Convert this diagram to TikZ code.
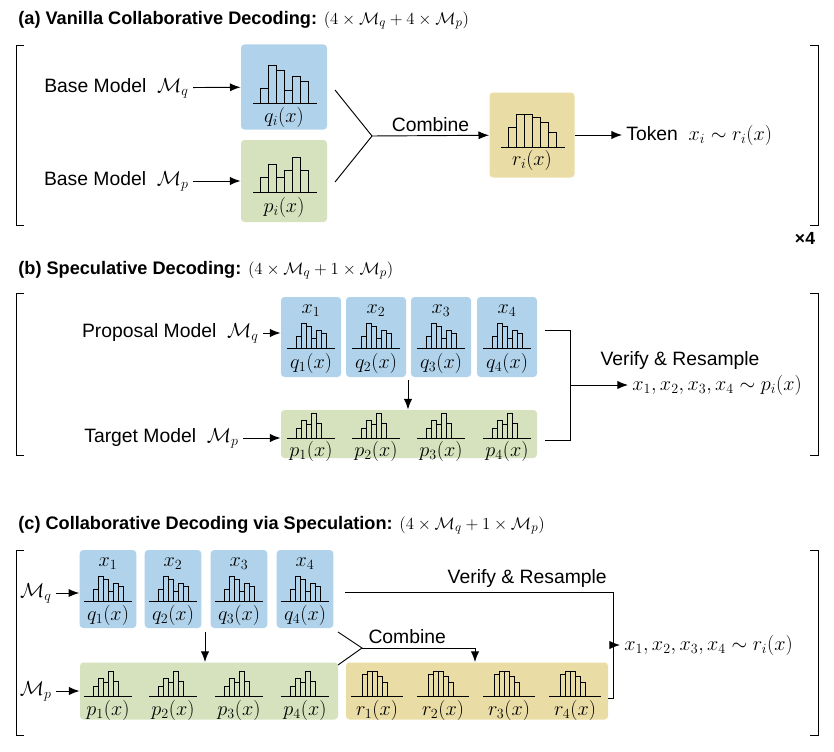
\documentclass[tikz,border=0pt]{standalone}
\usepackage{fontspec}
\setmainfont{Liberation Sans}
\usepackage{amsmath}
\usetikzlibrary{arrows.meta}
\definecolor{qblue}{HTML}{B0D3EB}
\definecolor{pgreen}{HTML}{D5E2BD}
\definecolor{rtan}{HTML}{EADCA5}
\newcommand\hist[4]{% left x, baseline y, bar width, heights
  \foreach \h [count=\i] in {#4} \draw ({#1+(\i-1)*#3},#2) rectangle ++(#3,-\h);}
\begin{document}
\begin{tikzpicture}[x=0.3mm, y=-0.3mm, line width=0.8pt, font=\fontsize{16.5}{19}\selectfont,
  >={Latex[length=9pt,width=7pt]}]
\useasboundingbox (0,0) rectangle (834,751);
\tikzset{box/.style={rounded corners=3pt, inner sep=0pt},
  lbl/.style={inner sep=1pt},
  ttl/.style={anchor=west, font=\fontsize{15.5}{18}\selectfont}}

% (a)
\node[ttl] (ta) at (14,20) {\textbf{(a) Vanilla Collaborative Decoding:} $(4\times\mathcal{M}_q+4\times\mathcal{M}_p)$};
\draw (24,45) -- (16,45) -- (16,225) -- (24,225);
\draw (810,45) -- (818,45) -- (818,225) -- (810,225);
\node[font=\bfseries\fontsize{15}{17}\selectfont] (x4) at (805,238) {×4};
\begin{scope}[every node/.style={box}]
\node[fill=qblue, minimum width=25.8mm, minimum height=25.5mm] (qa) at (284,87) {};
\node[fill=pgreen, minimum width=25.8mm, minimum height=24.6mm] (pa) at (284,181) {};
\node[fill=rtan, minimum width=25.5mm, minimum height=25.5mm] (ra) at (532,135) {};
\end{scope}
\hist{260}{103}{8}{15,38,33,13,27,22}
\draw (253,103) -- (317,103);
\node[lbl] at (284,117) {$q_i(x)$};
\hist{260}{192}{8}{15,28,15,22,35,22}
\draw (253,192) -- (317,192);
\node[lbl] at (284,207) {$p_i(x)$};
\hist{508}{147}{8}{20,33,33,30,25,15}
\draw (501,147) -- (565,147);
\node[lbl] at (532,160) {$r_i(x)$};
\node[anchor=east] (bq) at (193,88) {Base Model\ \ $\mathcal{M}_q$};
\node[anchor=east] (bp) at (193,181) {Base Model\ \ $\mathcal{M}_p$};
\draw[->] (bq) -- (qa);
\draw[->] (bp) -- (pa);
\coordinate (ja) at (372,136);
\draw (335,90) -- (ja) -- (335,182);
\draw[->] (ja) -- node[above] {Combine} (ra);
\node[anchor=west] (tok) at (622,135) {Token\ \ $x_i\sim r_i(x)$};
\draw[->] (ra) -- (tok);

% (b)
\node[ttl] (tb) at (14,270) {\textbf{(b) Speculative Decoding:} $(4\times\mathcal{M}_q+1\times\mathcal{M}_p)$};
\draw (24,293) -- (16,293) -- (16,455) -- (24,455);
\draw (810,293) -- (818,293) -- (818,455) -- (810,455);
\node[box, fill=pgreen, minimum width=76.8mm, minimum height=14.4mm] (pb) at (409,434) {};
\foreach \c [count=\k] in {311,376,441,507} {
  \node[box, fill=qblue, minimum width=18mm, minimum height=24mm] (qb\k) at (\c,337) {};
  \node[lbl] at (\c,311) {$x_\k$};
  \hist{\c-15}{348}{5}{12,25,22,10,18,15}
  \draw (\c-24,348) -- (\c+24,348);
  \node[lbl] at (\c,363) {$q_\k(x)$};
  \hist{\c-15}{438}{5}{10,18,14,25,15}
  \draw (\c-24,438) -- (\c+24,438);
  \node[lbl] at (\c,451) {$p_\k(x)$};
}
\node[anchor=east] (mpq) at (263,333) {Proposal Model\ \ $\mathcal{M}_q$};
\node[anchor=east] (mpp) at (243,438) {Target Model\ \ $\mathcal{M}_p$};
\draw[->] (mpq) -- (mpq -| qb1.west);
\draw[->] (mpp) -- (mpp -| pb.west);
\draw[->] (408,380) -- (pb.north -| 408,0);
\coordinate (jb) at (570,385);
\draw (545,330) -- (570,330) -- (570,440) -- (545,440);
\node[anchor=west] (ob) at (628,385) {$x_1,x_2,x_3,x_4\sim p_i(x)$};
\draw[->] (jb) -- (ob);
\node at (680,360) {Verify \& Resample};

% (c)
\node[ttl] (tc) at (14,525) {\textbf{(c) Collaborative Decoding via Speculation:} $(4\times\mathcal{M}_q+1\times\mathcal{M}_p)$};
\draw (24,550) -- (16,550) -- (16,735) -- (24,735);
\draw (810,550) -- (818,550) -- (818,735) -- (810,735);
\node[box, fill=pgreen, minimum width=77.4mm, minimum height=17.1mm] (pc) at (209,691) {};
\node[box, fill=rtan, minimum width=78.6mm, minimum height=17.1mm] (rc) at (477,691) {};
\foreach \c [count=\k] in {108,173,239,305} {
  \node[box, fill=qblue, minimum width=17mm, minimum height=23.4mm] (qc\k) at (\c,589) {};
  \node[lbl] at (\c,564) {$x_\k$};
  \hist{\c-15}{601}{5}{12,25,22,10,18,15}
  \draw (\c-24,601) -- (\c+24,601);
  \node[lbl] at (\c,615) {$q_\k(x)$};
  \hist{\c-15}{696}{5}{10,18,14,25,15}
  \draw (\c-24,696) -- (\c+24,696);
  \node[lbl] at (\c,710) {$p_\k(x)$};
}
\foreach \c [count=\k] in {377,443,509,575} {
  \hist{\c-15}{696}{5}{22,25,25,20,14}
  \draw (\c-26,696) -- (\c+26,696);
  \node[lbl] at (\c,710) {$r_\k(x)$};
}
\node[anchor=east] (mcq) at (56,593) {$\mathcal{M}_q$};
\node[anchor=east] (mcp) at (56,691) {$\mathcal{M}_p$};
\draw[->] (mcq) -- (mcq -| qc1.west);
\draw[->] (mcp) -- (mcp -| pc.west);
\draw[->] (205,632) -- (pc.north -| 205,0);
\coordinate (jc) at (362,648);
\draw (338,632) -- (jc) -- (338,665);
\draw[->] (jc) -- node[above, pos=0.4] {Combine} (475,648) -- (rc.north -| 475,0);
\coordinate (jv) at (613,645);
\draw (345,592) -- node[above, pos=0.68] {Verify \& Resample} (613,592) -- (613,698) -- (rc.east |- 0,698);
\node[anchor=west] (oc) at (620,645) {$x_1,x_2,x_3,x_4\sim r_i(x)$};
\draw[->] (jv) -- (oc);
\end{tikzpicture}
\end{document}
